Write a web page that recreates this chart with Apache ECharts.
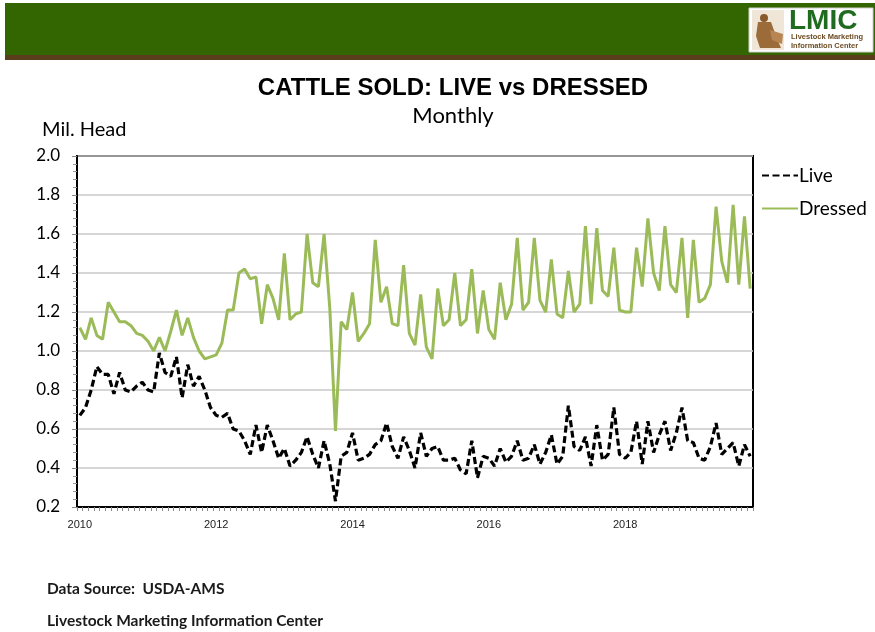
<!DOCTYPE html>
<html>
<head>
<meta charset="utf-8">
<script src="https://cdn.jsdelivr.net/npm/echarts@6/dist/echarts.min.js"></script>
<style>
html,body{margin:0;padding:0;background:#fff;}
#chart{width:875px;height:632px;}
</style>
</head>
<body>
<div id="chart"></div>
<script>
// ---- data ----
const startYear = 2010;
const monthCount = 119; // Jan 2010 - Nov 2019
const tickYears = ["2010", "2012", "2014", "2016", "2018"];
const yTicks = [0.2, 0.4, 0.6, 0.8, 1.0, 1.2, 1.4, 1.6, 1.8, 2.0];

const liveValues = [
  0.67, 0.71, 0.80, 0.92, 0.88, 0.88, 0.78, 0.89, 0.80, 0.79, 0.82, 0.84,
  0.80, 0.79, 0.99, 0.89, 0.87, 0.97, 0.76, 0.93, 0.82, 0.87, 0.80, 0.71,
  0.67, 0.66, 0.68, 0.60, 0.59, 0.54, 0.47, 0.62, 0.48, 0.62, 0.54, 0.45,
  0.50, 0.41, 0.44, 0.48, 0.56, 0.47, 0.40, 0.54, 0.42, 0.23, 0.46, 0.48,
  0.58, 0.44, 0.45, 0.47, 0.52, 0.54, 0.63, 0.51, 0.45, 0.56, 0.49, 0.40,
  0.58, 0.46, 0.50, 0.51, 0.44, 0.44, 0.45, 0.39, 0.37, 0.54, 0.35, 0.46,
  0.45, 0.41, 0.50, 0.43, 0.46, 0.54, 0.44, 0.45, 0.52, 0.42, 0.48, 0.57,
  0.42, 0.46, 0.72, 0.51, 0.49, 0.56, 0.41, 0.62, 0.44, 0.47, 0.71, 0.47,
  0.45, 0.48, 0.64, 0.42, 0.64, 0.48, 0.57, 0.64, 0.49, 0.58, 0.71, 0.54,
  0.53, 0.45, 0.44, 0.51, 0.63, 0.47, 0.50, 0.53, 0.41, 0.52, 0.46
];

const dressedValues = [
  1.12, 1.06, 1.17, 1.08, 1.06, 1.25, 1.20, 1.15, 1.15, 1.13, 1.09, 1.08,
  1.05, 1.00, 1.07, 1.00, 1.10, 1.21, 1.08, 1.17, 1.07, 1.00, 0.96, 0.97,
  0.98, 1.04, 1.21, 1.21, 1.40, 1.42, 1.37, 1.38, 1.14, 1.34, 1.27, 1.16,
  1.50, 1.16, 1.19, 1.20, 1.60, 1.35, 1.33, 1.60, 1.22, 0.59, 1.15, 1.11,
  1.30, 1.05, 1.09, 1.14, 1.57, 1.25, 1.33, 1.14, 1.13, 1.44, 1.09, 1.03,
  1.29, 1.02, 0.96, 1.32, 1.13, 1.16, 1.40, 1.13, 1.16, 1.42, 1.09, 1.31,
  1.11, 1.06, 1.35, 1.16, 1.24, 1.58, 1.21, 1.25, 1.58, 1.26, 1.20, 1.47,
  1.19, 1.17, 1.41, 1.20, 1.24, 1.64, 1.24, 1.63, 1.31, 1.28, 1.53, 1.21,
  1.20, 1.20, 1.53, 1.33, 1.68, 1.40, 1.31, 1.64, 1.34, 1.30, 1.58, 1.17,
  1.57, 1.25, 1.27, 1.34, 1.74, 1.46, 1.35, 1.75, 1.34, 1.69, 1.32
];

const categories = [];
for (let i = 0; i < monthCount; i++) {
  const y = startYear + Math.floor(i / 12);
  const m = (i % 12) + 1;
  categories.push(y + "-" + (m < 10 ? "0" + m : m));
}

// ---- chart ----
const chart = echarts.init(document.getElementById('chart'), null, {renderer: 'canvas'});
const sansCal = 'Lato, "Liberation Sans", Arial, sans-serif';
const sansArial = '"Liberation Sans", Arial, sans-serif';

const option = {
  backgroundColor: '#ffffff',
  animation: false,
  title: [
    {text: 'CATTLE SOLD: LIVE vs DRESSED', left: 448, textAlign: 'center', top: 71,
     textStyle: {fontFamily: sansArial, fontSize: 24, fontWeight: 'bold', color: '#000'}},
    {text: 'Monthly', left: 448, textAlign: 'center', top: 100,
     textStyle: {fontFamily: sansCal, fontSize: 22, fontWeight: 'normal', color: '#000'}}
  ],
  grid: {left: 77, top: 156, width: 676, height: 351, show: true,
         borderColor: '#000', borderWidth: 2, backgroundColor: 'transparent', containLabel: false},
  legend: {
    orient: 'vertical', left: 756, top: 161, itemWidth: 36, itemHeight: 10, itemGap: 14,
    itemStyle: {opacity: 0},
    textStyle: {fontFamily: sansCal, fontSize: 19, color: '#000', padding: [0,0,0,-4]},
    data: ['Live', 'Dressed']
  },
  xAxis: {
    type: 'category', data: categories, boundaryGap: true,
    axisLine: {show: true, lineStyle: {color: '#000', width: 2}},
    axisTick: {show: true, interval: 0, length: 4, lineStyle: {color: '#888'}},
    axisLabel: {
      interval: function (index) { return tickYears.indexOf(categories[index].slice(0,4)) >= 0 && categories[index].slice(5) === '01'; },
      formatter: function (v) { return v.slice(0, 4); },
      fontFamily: sansArial, fontSize: 11, color: '#222', margin: 12
    },
    splitLine: {show: false}
  },
  yAxis: {
    type: 'value', min: yTicks[0], max: yTicks[yTicks.length-1], interval: 0.2,
    axisLine: {show: true, lineStyle: {color: '#000', width: 2}},
    axisTick: {show: true, length: 5, lineStyle: {color: '#888'}},
    minorTick: {show: true, splitNumber: 5, length: 4, lineStyle: {color: '#999'}},
    axisLabel: {formatter: function (v) { return v.toFixed(1); },
      fontFamily: sansCal, fontSize: 17, color: '#000', margin: 17},
    splitLine: {show: true, lineStyle: {color: '#c8c8c8', width: 1.5}}
  },
  series: [
    {name: 'Live', type: 'line', data: liveValues, symbol: 'none', z: 3,
     itemStyle: {color: '#000'},
     lineStyle: {color: '#000', width: 3.2, type: [7, 3.5]}},
    {name: 'Dressed', type: 'line', data: dressedValues, symbol: 'none', z: 2,
     itemStyle: {color: '#9bbb59'},
     lineStyle: {color: '#9bbb59', width: 3}}
  ],
  graphic: [
    {type: 'rect', shape: {x: 5, y: 3, width: 870, height: 52}, style: {fill: '#336600'}, silent: true},
    {type: 'rect', shape: {x: 5, y: 55, width: 870, height: 5}, style: {fill: '#5a3e1b'}, silent: true},
    {type: 'rect', shape: {x: 749, y: 8, width: 124, height: 44}, style: {fill: '#ffffff', stroke: '#cfcfcf', lineWidth: 1}, silent: true},
    {type: 'rect', shape: {x: 752, y: 10, width: 32, height: 40}, style: {fill: '#efe6d8'}, silent: true},
    {type: 'circle', shape: {cx: 764, cy: 18, r: 4}, style: {fill: '#8a5a2b'}, silent: true},
    {type: 'polygon', shape: {points: [[758,22],[771,22],[776,36],[781,48],[760,48],[756,36]]}, style: {fill: '#9c6b3a'}, silent: true},
    {type: 'polygon', shape: {points: [[770,30],[783,34],[782,44],[772,40]]}, style: {fill: '#b78552'}, silent: true},
    {type: 'text', left: 789, top: 7, style: {text: 'LMIC', fontFamily: sansArial, fontSize: 28, fontWeight: 'bold', fill: '#1f6b1f'}, silent: true},
    {type: 'text', left: 791, top: 33, style: {text: 'Livestock Marketing', fontFamily: sansArial, fontSize: 7.5, fontWeight: 'bold', fill: '#6b4a22'}, silent: true},
    {type: 'text', left: 791, top: 42, style: {text: 'Information Center', fontFamily: sansArial, fontSize: 7.5, fontWeight: 'bold', fill: '#6b4a22'}, silent: true},
    {type: 'text', left: 42, top: 120, style: {text: 'Mil. Head', fontFamily: sansCal, fontSize: 20, fill: '#000'}, silent: true},
    {type: 'text', left: 47, top: 581, style: {text: 'Data Source:  USDA-AMS', fontFamily: sansCal, fontSize: 15.5, fontWeight: 'bold', fill: '#1a1a1a'}, silent: true},
    {type: 'text', left: 47, top: 613, style: {text: 'Livestock Marketing Information Center', fontFamily: sansCal, fontSize: 15.5, fontWeight: 'bold', fill: '#1a1a1a'}, silent: true}
  ]
};
chart.setOption(option);
</script>
</body>
</html>
